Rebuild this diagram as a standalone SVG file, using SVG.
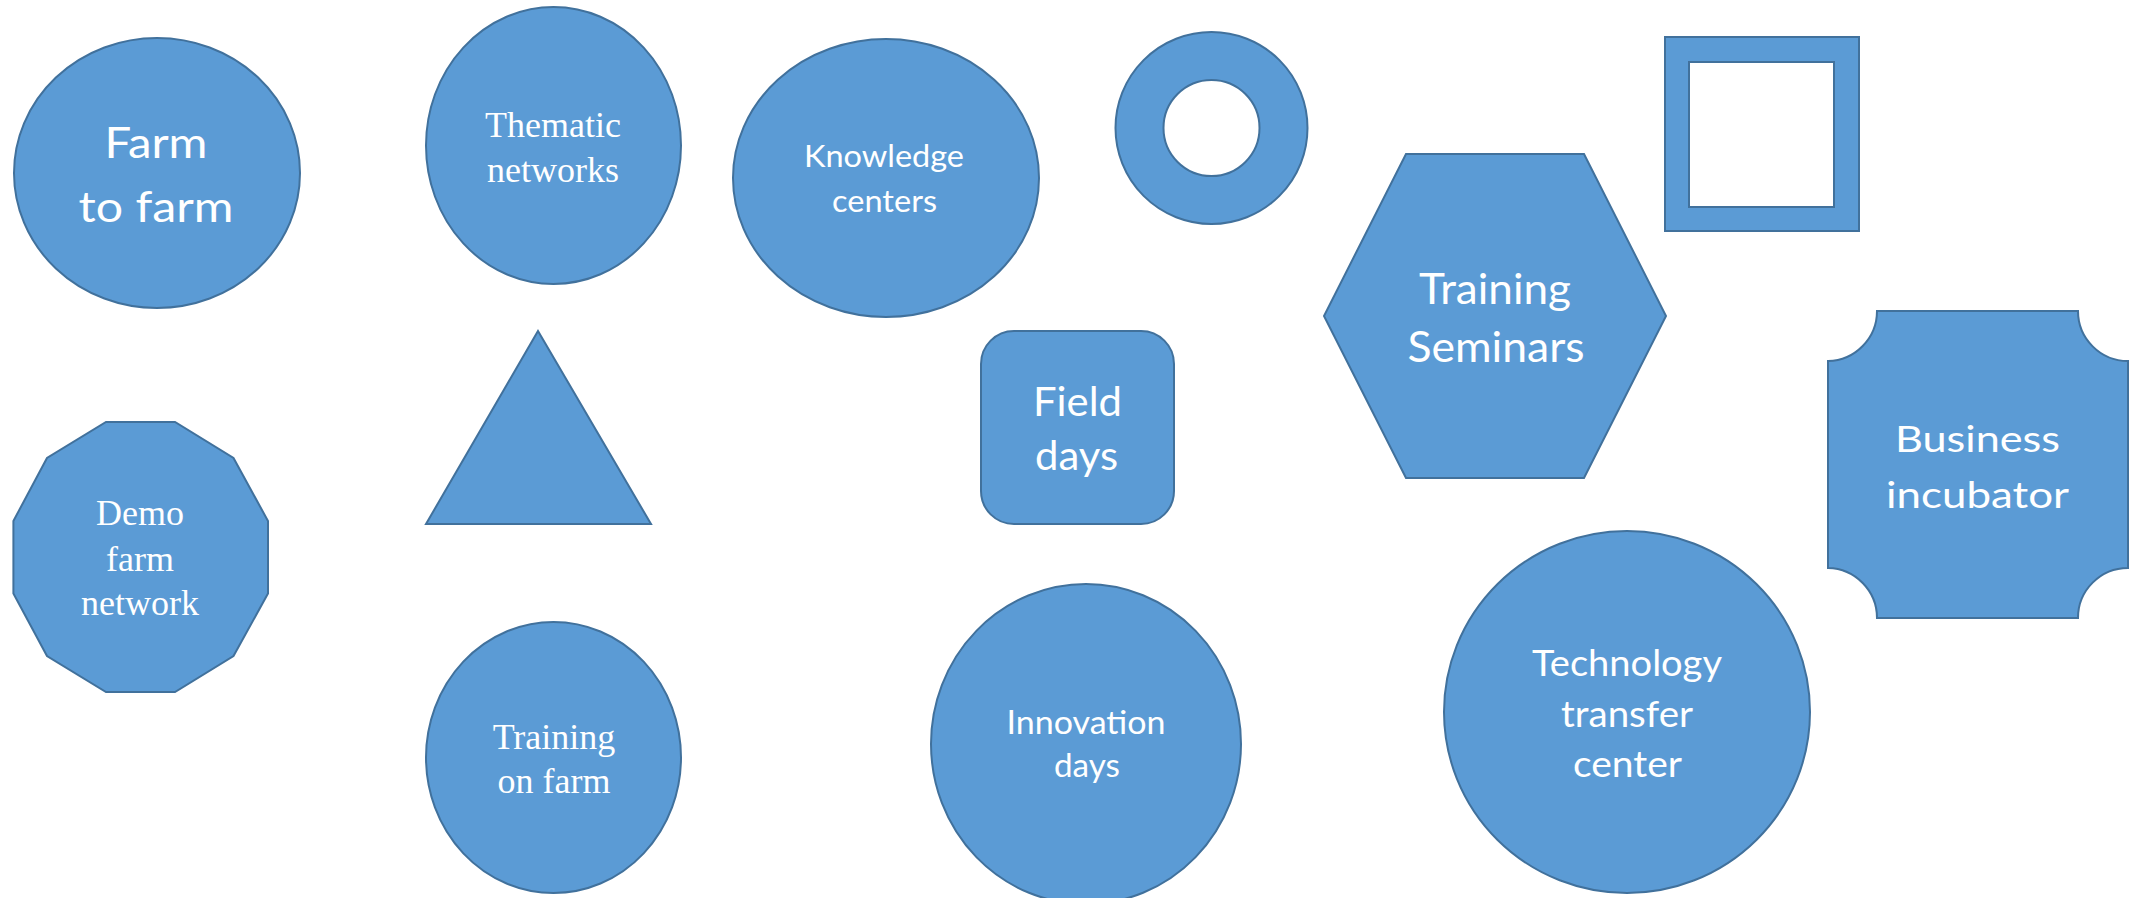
<svg xmlns="http://www.w3.org/2000/svg" width="2136" height="898" viewBox="0 0 2136 898">
<style>
.shape{fill:#5B9BD5;stroke:#41719C;stroke-width:2;}
.hole{fill:#5B9BD5;stroke:#41719C;stroke-width:2;fill-rule:evenodd;}
.sans{font-family:Lato,"Open Sans","Liberation Sans",sans-serif;fill:#FFFFFF;text-anchor:middle;}
.serif{font-family:"Liberation Serif","Times New Roman",serif;fill:#FFFFFF;text-anchor:middle;font-size:36px;}
</style>
<rect x="0" y="0" width="2136" height="898" fill="#FFFFFF"/>
<g id="connectors"/>
<g id="farm-to-farm">
<ellipse class="shape" cx="157" cy="173" rx="143" ry="135"/>
<text class="sans" font-size="42.5" x="156" y="158" textLength="103" lengthAdjust="spacingAndGlyphs">Farm</text>
<text class="sans" font-size="42.5" x="156" y="222" textLength="155" lengthAdjust="spacingAndGlyphs">to farm</text>
</g>
<g id="thematic-networks">
<ellipse class="shape" cx="553.5" cy="145.5" rx="127.5" ry="138.5"/>
<text class="serif" x="553" y="137">Thematic</text>
<text class="serif" x="553" y="182">networks</text>
</g>
<g id="knowledge-centers">
<ellipse class="shape" cx="886" cy="178" rx="153" ry="139"/>
<text class="sans" font-size="31" x="884" y="167" textLength="160" lengthAdjust="spacingAndGlyphs">Knowledge</text>
<text class="sans" font-size="31" x="884.5" y="211.5" textLength="105" lengthAdjust="spacingAndGlyphs">centers</text>
</g>
<g id="ring">
<path class="hole" d="M1115.5,128 A96,96 0 1,0 1307.5,128 A96,96 0 1,0 1115.5,128 Z M1163.5,128 A48,48 0 1,0 1259.5,128 A48,48 0 1,0 1163.5,128 Z"/>
</g>
<g id="frame">
<path class="hole" d="M1665,37 H1859 V231 H1665 Z M1689,62 H1834 V207 H1689 Z"/>
</g>
<g id="training-seminars">
<polygon class="shape" points="1406,154 1584,154 1666,316 1584,478 1406,478 1324,316"/>
<text class="sans" font-size="42" x="1495" y="304" textLength="152" lengthAdjust="spacingAndGlyphs">Training</text>
<text class="sans" font-size="42" x="1496" y="362" textLength="177" lengthAdjust="spacingAndGlyphs">Seminars</text>
</g>
<g id="demo-farm-network">
<polygon class="shape" points="106,422 175,422 233.5,458 268,521 268,593.5 233.5,656 175,692 106,692 47,656 13.4,593.5 13.4,521 47,458"/>
<text class="serif" x="140" y="525">Demo</text>
<text class="serif" x="140" y="571">farm</text>
<text class="serif" x="140" y="615">network</text>
</g>
<g id="triangle">
<polygon class="shape" points="538,331 651,524 426,524"/>
</g>
<g id="field-days">
<rect class="shape" x="981" y="331" width="193" height="193" rx="33" ry="33"/>
<text class="sans" font-size="40" x="1077.5" y="416" textLength="89" lengthAdjust="spacingAndGlyphs">Field</text>
<text class="sans" font-size="40" x="1076.5" y="470" textLength="83" lengthAdjust="spacingAndGlyphs">days</text>
</g>
<g id="business-incubator">
<path class="shape" d="M1877,311 H2078 A50,50 0 0,0 2128,361 V568 A50,50 0 0,0 2078,618 H1877 A50,50 0 0,0 1828,568 V361 A50,50 0 0,0 1877,311 Z"/>
<text class="sans" font-size="37" x="1977.5" y="452" textLength="165" lengthAdjust="spacingAndGlyphs">Business</text>
<text class="sans" font-size="37" x="1977.5" y="508" textLength="183" lengthAdjust="spacingAndGlyphs">incubator</text>
</g>
<g id="training-on-farm">
<ellipse class="shape" cx="553.5" cy="757.5" rx="127.5" ry="135.5"/>
<text class="serif" x="554" y="749">Training</text>
<text class="serif" x="554" y="793">on farm</text>
</g>
<g id="innovation-days">
<ellipse class="shape" cx="1086" cy="744" rx="155" ry="160"/>
<text class="sans" font-size="33.5" x="1086" y="734" textLength="159" lengthAdjust="spacingAndGlyphs">Innovation</text>
<text class="sans" font-size="33.5" x="1087" y="777" textLength="66" lengthAdjust="spacingAndGlyphs">days</text>
</g>
<g id="technology-transfer-center">
<ellipse class="shape" cx="1627" cy="712" rx="183" ry="181"/>
<text class="sans" font-size="36" x="1627" y="676" textLength="190" lengthAdjust="spacingAndGlyphs">Technology</text>
<text class="sans" font-size="36" x="1627" y="726.5" textLength="132" lengthAdjust="spacingAndGlyphs">transfer</text>
<text class="sans" font-size="36" x="1627.5" y="776.5" textLength="109" lengthAdjust="spacingAndGlyphs">center</text>
</g>
</svg>
